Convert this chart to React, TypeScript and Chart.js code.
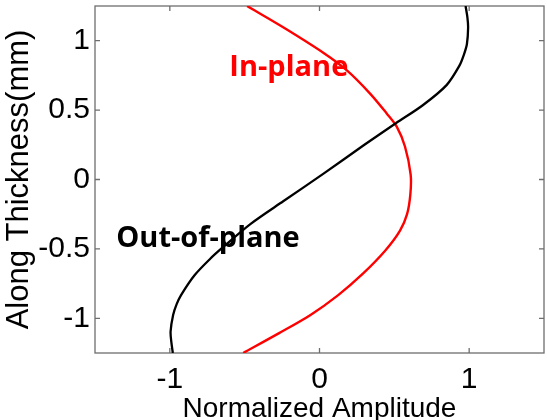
import React, { useEffect, useRef } from 'react';
import { Chart, registerables } from 'chart.js';

Chart.register(...registerables);

// Out-of-plane (black) curve: amplitude (x) versus position along thickness (y)
const outOfPlaneAmp = [-0.98, -0.99, -0.995, -0.978, -0.955, -0.925, -0.835, -0.73, -0.645, -0.462, -0.24, 0.027, 0.3, 0.51, 0.69, 0.849, 0.935, 0.965, 0.985, 0.993, 0.988, 0.976];
const outOfPlaneThk = [-1.25, -1.17, -1.095, -0.976, -0.9, -0.833, -0.69, -0.571, -0.488, -0.321, -0.155, 0.042, 0.25, 0.405, 0.535, 0.68, 0.82, 0.9, 0.976, 1.095, 1.17, 1.25];

// In-plane (red) curve
const inPlaneAmp = [-0.51, -0.27, -0.06, 0.125, 0.29, 0.44, 0.538, 0.585, 0.607, 0.609, 0.571, 0.516, 0.449, 0.338, 0.183, 0.03, -0.24, -0.484];
const inPlaneThk = [-1.25, -1.107, -0.976, -0.833, -0.679, -0.512, -0.369, -0.25, -0.107, 0.036, 0.238, 0.381, 0.476, 0.619, 0.786, 0.91, 1.095, 1.25];

const xTicks = [-1, 0, 1];
const xTickLabels = ['-1', '0', '1'];
const yTicks = [-1, -0.5, 0, 0.5, 1];
const yTickLabels = ['-1', '-0.5', '0', '0.5', '1'];

const seriesNames = ['Out-of-plane', 'In-plane'];
const seriesColors = ['#000000', '#ff0000'];
const labelAmp = [-0.745, -0.205];
const labelThk = [-0.488, 0.745];

const AXIS_FONT = "'Liberation Sans', Arial, sans-serif";
const NOTE_FONT = "'Open Sans', 'Noto Sans', sans-serif";
const FRAME = '#6e6e6e';

const framePlugin = {
  id: 'matlabFrame',
  beforeDatasetsDraw(chart: any) {
    const { ctx, chartArea: a, scales } = chart;
    ctx.save();
    // annotations (under the lines)
    ctx.font = `bold 29px ${NOTE_FONT}`;
    ctx.textAlign = 'center';
    ctx.textBaseline = 'alphabetic';
    seriesNames.forEach((name, i) => {
      ctx.fillStyle = seriesColors[i];
      ctx.fillText(name, scales.x.getPixelForValue(labelAmp[i]), scales.y.getPixelForValue(labelThk[i]));
    });
    // box
    ctx.strokeStyle = FRAME;
    ctx.lineWidth = 1.3;
    ctx.strokeRect(a.left, a.top, a.right - a.left, a.bottom - a.top);
    // inward ticks
    const L = 5;
    ctx.beginPath();
    xTicks.forEach((v) => {
      const px = scales.x.getPixelForValue(v);
      ctx.moveTo(px, a.bottom);
      ctx.lineTo(px, a.bottom - L);
      ctx.moveTo(px, a.top);
      ctx.lineTo(px, a.top + L);
    });
    yTicks.forEach((v) => {
      const py = scales.y.getPixelForValue(v);
      ctx.moveTo(a.left, py);
      ctx.lineTo(a.left + L, py);
      ctx.moveTo(a.right, py);
      ctx.lineTo(a.right - L, py);
    });
    ctx.stroke();
    ctx.restore();
  },
};

export default function App() {
  const ref = useRef<HTMLCanvasElement | null>(null);

  useEffect(() => {
    if (!ref.current) return;
    const chart = new Chart(ref.current, {
      type: 'scatter',
      data: {
        datasets: [
          {
            label: seriesNames[0],
            data: outOfPlaneAmp.map((x, i) => ({ x, y: outOfPlaneThk[i] })),
            borderColor: seriesColors[0],
            backgroundColor: seriesColors[0],
            borderWidth: 2.3,
            pointRadius: 0,
            showLine: true,
            tension: 0.3,
          },
          {
            label: seriesNames[1],
            data: inPlaneAmp.map((x, i) => ({ x, y: inPlaneThk[i] })),
            borderColor: seriesColors[1],
            backgroundColor: seriesColors[1],
            borderWidth: 2.4,
            pointRadius: 0,
            showLine: true,
            tension: 0.3,
          },
        ],
      },
      options: {
        animation: false,
        responsive: false,
        events: [],
        layout: { padding: { left: 0, right: 3, top: 6, bottom: 0 } },
        plugins: { legend: { display: false }, tooltip: { enabled: false } },
        scales: {
          x: {
            type: 'linear',
            min: -1.5,
            max: 1.5,
            grid: { display: false, drawTicks: false },
            border: { display: false },
            afterBuildTicks: (s: any) => {
              s.ticks = xTicks.map((v) => ({ value: v }));
            },
            afterFit: (s: any) => {
              s.height = 67;
              s.paddingLeft = 0;
              s.paddingRight = 0;
            },
            ticks: {
              autoSkip: false,
              maxRotation: 0,
              padding: 9,
              color: '#000',
              font: { family: AXIS_FONT, size: 30 },
              callback: (_v: any, i: number) => xTickLabels[i],
            },
            title: {
              display: true,
              text: 'Normalized Amplitude',
              color: '#000',
              font: { family: AXIS_FONT, size: 28, lineHeight: 1 },
              padding: { top: 0, bottom: -3 },
            },
          },
          y: {
            type: 'linear',
            min: -1.25,
            max: 1.25,
            grid: { display: false, drawTicks: false },
            border: { display: false },
            afterBuildTicks: (s: any) => {
              s.ticks = yTicks.map((v) => ({ value: v }));
            },
            afterFit: (s: any) => {
              s.width = 95;
              s.paddingTop = 0;
              s.paddingBottom = 0;
            },
            ticks: {
              autoSkip: false,
              padding: 5,
              color: '#000',
              font: { family: AXIS_FONT, size: 30 },
              callback: (_v: any, i: number) => yTickLabels[i],
            },
            title: {
              display: true,
              text: 'Along Thickness(mm)',
              color: '#000',
              font: { family: AXIS_FONT, size: 31, lineHeight: 1 },
              padding: { top: 4, bottom: 0 },
            },
          },
        },
      },
      plugins: [framePlugin],
    });
    return () => chart.destroy();
  }, []);

  return (
    <div style={{ position: 'absolute', left: 0, top: 0, width: 547, height: 420, background: '#fff' }}>
      <canvas ref={ref} width={547} height={420} />
    </div>
  );
}
